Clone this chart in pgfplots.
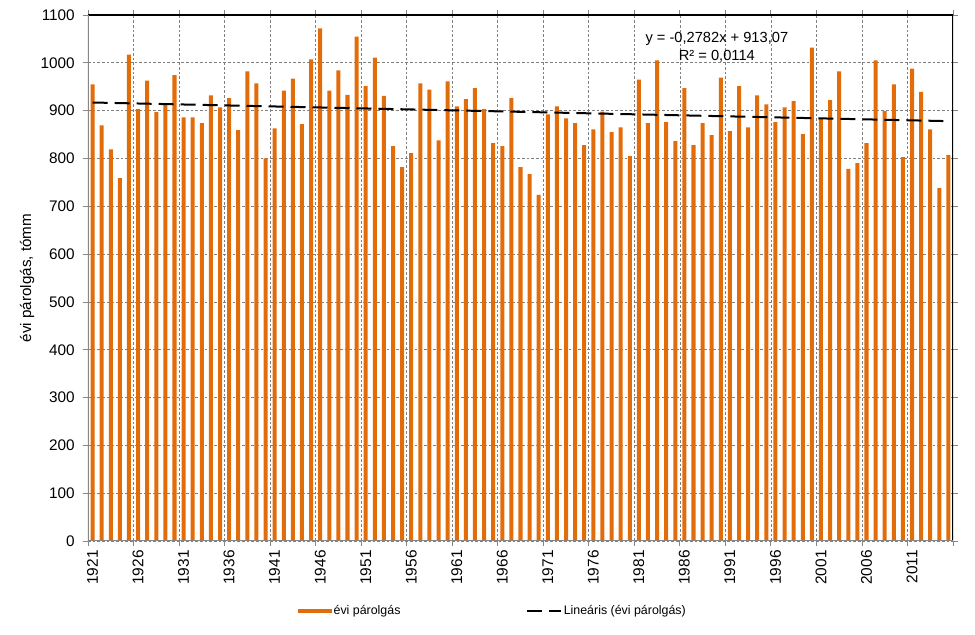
\documentclass[border=0pt]{standalone}
\usepackage{fontspec}
\setmainfont{Liberation Sans}
\usepackage{pgfplots}
\pgfplotsset{compat=1.18}
\definecolor{barorange}{RGB}{227,108,10}
\definecolor{gridgray}{RGB}{128,128,128}
\definecolor{axisgray}{RGB}{134,134,134}
\begin{document}
\begin{tikzpicture}
\useasboundingbox (-66pt,-70.5pt) rectangle (665.25pt,405.75pt);
\begin{axis}[
  at={(0,0)}, anchor=south west,
  scale only axis, width=648.75pt, height=394.5pt,
  xmin=1920.5, xmax=2015.5, ymin=0, ymax=1100,
  axis line style={draw=none},
  /pgf/number format/assume math mode=true,
  /pgf/number format/1000 sep={},
  ytick={0,100,...,1100},
  xtick={1921,1926,...,2011},
  minor xtick={1925.5,1930.5,...,2010.5},
  extra x ticks={1920.5,2015.5}, extra x tick labels={},
  extra x tick style={major x tick style={draw=axisgray, line width=0.6pt}, grid=none},
  tick align=outside,
  major tick length=3.75pt, minor tick length=3.75pt,
  major x tick style={draw=none},
  major y tick style={draw=axisgray, line width=0.6pt},
  minor x tick style={draw=axisgray, line width=0.6pt},
  ymajorgrids=true, xminorgrids=true, xmajorgrids=false,
  major grid style={gridgray, line width=0.5pt, dash pattern=on 2pt off 1.5pt},
  minor grid style={gridgray, line width=0.5pt, dash pattern=on 2pt off 1.5pt},
  yticklabel style={font=\fontsize{11.5}{13}\selectfont, anchor=east, inner sep=0pt, xshift=-6pt},
  xticklabel style={font=\fontsize{11.6}{13}\selectfont, rotate=90, anchor=east, inner sep=0pt},
  xticklabel shift=3pt,
  ylabel={évi párolgás, tómm},
  ylabel style={font=\fontsize{11.4}{13}\selectfont, at={(axis description cs:-0.0705,0.5)}, anchor=center},
  legend columns=2,
  legend style={draw=none, fill=none, at={(axis description cs:0.2428,-0.133)}, anchor=west,
    inner sep=0pt, font=\fontsize{9.3}{11}\selectfont,
    nodes={inner sep=1pt},
    /tikz/every even column/.append style={column sep=93pt}},
]
\addplot[ybar, bar width=0.44, fill=barorange, draw=none,
  legend image code/.code={\fill[barorange] (0pt,-1.4pt) rectangle (25.5pt,1.4pt);}]
coordinates {
(1921,955) (1922,869) (1923,819) (1924,759) (1925,1017)
(1926,903) (1927,963) (1928,897) (1929,913) (1930,974)
(1931,886) (1932,886) (1933,874) (1934,932) (1935,907)
(1936,926) (1937,859) (1938,982) (1939,957) (1940,800)
(1941,863) (1942,942) (1943,967) (1944,872) (1945,1007)
(1946,1072) (1947,942) (1948,984) (1949,933) (1950,1055)
(1951,951) (1952,1011) (1953,931) (1954,826) (1955,782)
(1956,811) (1957,957) (1958,944) (1959,838) (1960,961)
(1961,909) (1962,924) (1963,947) (1964,903) (1965,832)
(1966,826) (1967,926) (1968,782) (1969,767) (1970,724)
(1971,892) (1972,909) (1973,884) (1974,874) (1975,828)
(1976,861) (1977,898) (1978,855) (1979,865) (1980,805)
(1981,965) (1982,874) (1983,1005) (1984,876) (1985,836)
(1986,947) (1987,828) (1988,874) (1989,849) (1990,969)
(1991,857) (1992,951) (1993,865) (1994,932) (1995,913)
(1996,876) (1997,907) (1998,920) (1999,851) (2000,1032)
(2001,882) (2002,922) (2003,982) (2004,778) (2005,790)
(2006,832) (2007,1005) (2008,899) (2009,955) (2010,803)
(2011,988) (2012,939) (2013,861) (2014,738) (2015,807)
};
\addlegendentry{évi párolgás}
\addplot[black, line width=1.5pt, dash pattern=on 11.25pt off 5.25pt,
  legend image code/.code={\draw[black, line width=1.5pt, dash pattern=on 11.25pt off 5.25pt] (0pt,0pt) -- (26pt,0pt);}]
coordinates {(1921,917) (2015,878)};
\addlegendentry{Lineáris (évi párolgás)}
\draw[black, line width=0.8pt] (rel axis cs:0,1) -- (rel axis cs:1,1) -- (rel axis cs:1,0);
\draw[axisgray, line width=0.8pt] (rel axis cs:0,1) -- (rel axis cs:0,0) -- (rel axis cs:1,0);
\node[align=center, font=\fontsize{11}{13.8}\selectfont, inner sep=0pt] at (axis description cs:0.727,0.938) {y = -0,2782x + 913,07\\R² = 0,0114};
\end{axis}
\end{tikzpicture}
\end{document}
